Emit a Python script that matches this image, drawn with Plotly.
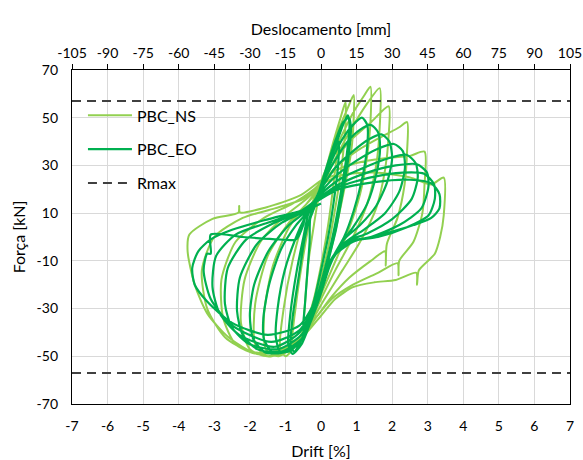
import plotly.graph_objects as go

# ---------------- data (drift [%], force [kN]) ----------------
RMAX = 57
MM_PER_DRIFT = 15  # 1 % drift = 15 mm displacement (top axis)

# PBC_NS cycles (light green)
NS_C1 = [(-0.2,12),(0.0,20),(0.2,30),(0.4,38),(0.45,42),(0.45,36),(0.35,22),(0.2,5),(0.0,-12),(-0.2,-26),(-0.4,-36),(-0.5,-40),(-0.45,-28),(-0.35,-10),(-0.2,5),(-0.1,14)]
NS_C2 = [(0.1,26),(0.35,40),(0.55,50),(0.69,56.6),(0.69,48),(0.6,32),(0.4,12),(0.15,-8),(-0.15,-25),(-0.45,-38),(-0.7,-46),(-0.8,-44),(-0.7,-28),(-0.5,-8),(-0.3,8),(-0.1,16)]
NS_C3 = [(0.15,28),(0.45,43),(0.75,54),(0.92,59.5),(0.92,50),(0.85,36),(0.6,16),(0.3,-4),(0.0,-20),(-0.35,-34),(-0.7,-45),(-1.0,-50),(-1.15,-46),(-1.05,-30),(-0.8,-10),(-0.5,6),(-0.2,16)]
NS_C4 = [(0.1,27),(0.5,40),(0.9,52),(1.2,59),(1.39,63),(1.39,48),(1.3,34),(1.1,18),(0.75,2),(0.35,-12),(0.0,-24),(-0.4,-37),(-0.8,-46),(-1.2,-50),(-1.55,-47),(-1.6,-32),(-1.35,-12),(-0.9,4),(-0.4,14),(-0.1,19)]
NS_C5 = [(0.3,30),(0.8,44),(1.3,56),(1.65,62.4),(1.65,46),(1.55,30),(1.3,14),(0.9,0),(0.4,-14),(0.0,-26),(-0.4,-38),(-0.9,-47),(-1.5,-50),(-1.85,-45),(-1.85,-28),(-1.5,-8),(-0.9,6),(-0.4,14),(-0.1,20)]
NS_C6 = [(0.3,30),(0.8,40),(1.4,48),(1.9,54.8),(1.9,42),(1.8,28),(1.55,12),(1.1,-2),(0.6,-14),(0.1,-26),(-0.3,-36),(-0.8,-45),(-1.5,-50),(-2.0,-47),(-2.25,-36),(-2.15,-18),(-1.7,-2),(-1.0,9),(-0.4,16),(-0.05,21)]
NS_C7 = [(0.4,29),(1.0,36),(1.7,42),(2.2,46),(2.42,48.2),(2.42,36),(2.35,22),(2.15,8),(1.85,-3),(1.82,-12),(1.8,-6),(1.4,-10),(0.8,-17),(0.3,-25),(-0.1,-33),(-0.5,-41),(-1.1,-47),(-1.8,-49),(-2.4,-45),(-2.75,-34),(-2.8,-18),(-2.4,-2),(-1.6,8),(-0.8,14),(-0.2,20)]
NS_C8 = [(0.3,27),(1.0,31),(1.8,33),(2.5,34),(2.91,35.8),(2.91,22),(2.85,10),(2.6,-2),(2.2,-10),(2.18,-16),(2.15,-11),(1.6,-15),(0.9,-20),(0.3,-26),(-0.1,-33),(-0.5,-41),(-1.2,-48),(-2.0,-48),(-2.7,-42),(-3.2,-30),(-3.35,-14),(-3.0,0),(-2.2,8),(-1.3,12),(-0.5,16),(0.0,22)]
NS_C9 = [(0.6,26),(1.5,27),(2.5,25),(3.1,22),(3.45,24.9),(3.45,9),(3.35,0),(3.2,-7),(2.75,-14),(2.7,-20),(2.68,-15),(2.1,-18),(1.5,-19),(0.9,-21),(0.4,-26),(0.0,-33),(-0.4,-40),(-1.0,-47),(-1.8,-49),(-2.6,-42),(-3.2,-32),(-3.55,-20),(-3.75,-6),(-3.7,1),(-3.05,7.6),(-2.32,10.2),(-2.3,13),(-2.28,10.3),(-1.55,12.4),(-0.6,17.3),(0.0,23.6),(0.4,26)]

# PBC_EO cycles (dark green)
EO_C1 = [(-0.3,8),(-0.1,16),(0.15,28),(0.35,36),(0.5,40),(0.48,30),(0.35,14),(0.2,0),(0.0,-14),(-0.2,-27),(-0.4,-36),(-0.5,-39),(-0.45,-28),(-0.38,-14),(-0.32,-2),(-0.3,8)]
EO_C2 = [(-0.05,18),(0.2,30),(0.45,40),(0.62,47),(0.75,51),(0.8,48),(0.72,34),(0.55,18),(0.38,4),(0.2,-8),(-0.05,-22),(-0.3,-34),(-0.55,-43),(-0.75,-48),(-0.85,-46),(-0.8,-34),(-0.62,-16),(-0.45,0),(-0.3,9)]
EO_C2B = [(-0.1,17),(0.15,29),(0.42,41),(0.62,48),(0.78,50),(0.84,46),(0.76,32),(0.58,16),(0.42,3),(0.22,-9),(-0.02,-23),(-0.28,-35),(-0.55,-45),(-0.8,-49),(-0.92,-45),(-0.86,-32),(-0.68,-14),(-0.48,1),(-0.35,10)]
EO_C3 = [(0.0,20),(0.3,32),(0.6,41),(0.9,47),(1.15,50),(1.3,47),(1.3,38),(1.15,24),(0.92,11),(0.65,0),(0.35,-8),(0.1,-18),(-0.2,-32),(-0.55,-43),(-0.9,-48),(-1.15,-48),(-1.27,-42),(-1.22,-30),(-1.02,-14),(-0.75,-2),(-0.45,8),(-0.3,11)]
EO_C4 = [(0.0,21),(0.35,31),(0.75,40),(1.1,45),(1.4,47),(1.6,44),(1.66,37),(1.55,26),(1.3,14),(0.9,4),(0.55,-3),(0.25,-12),(-0.1,-28),(-0.5,-42),(-0.95,-48),(-1.35,-48.5),(-1.6,-43),(-1.62,-34),(-1.46,-20),(-1.12,-5),(-0.7,5),(-0.35,11)]
EO_C5 = [(0.0,20),(0.4,29),(0.9,36),(1.35,41),(1.7,43),(1.92,40),(2.0,33),(1.86,23),(1.55,13),(1.1,5),(0.65,-1),(0.3,-10),(-0.1,-28),(-0.5,-42),(-1.0,-48),(-1.55,-48.5),(-1.9,-43),(-2.0,-33),(-1.88,-20),(-1.48,-6),(-0.9,5),(-0.4,11)]
EO_C6 = [(0.0,19),(0.45,26),(1.0,32),(1.6,37),(2.05,39),(2.3,36),(2.36,29),(2.2,19),(1.8,10),(1.2,3),(0.7,-2),(0.3,-10),(-0.1,-28),(-0.5,-42),(-1.1,-48),(-1.8,-47),(-2.2,-41),(-2.36,-31),(-2.28,-17),(-1.8,-3),(-1.1,6),(-0.45,11)]
EO_C7 = [(0.0,18),(0.5,24),(1.2,29),(1.9,33),(2.4,34.5),(2.66,31),(2.72,25),(2.55,16),(2.0,7.5),(1.3,1.5),(0.7,-2),(0.3,-9),(-0.1,-27),(-0.55,-41),(-1.2,-47),(-2.0,-45),(-2.5,-38),(-2.7,-28),(-2.62,-13),(-2.1,-1),(-1.3,6),(-0.5,11)]
EO_C8 = [(0.0,17),(0.5,22),(1.3,27),(2.1,30),(2.7,30.5),(2.98,27),(3.02,21),(2.82,12),(2.2,5),(1.4,0),(0.75,-2),(0.3,-9),(-0.1,-26),(-0.6,-40),(-1.3,-46),(-2.3,-41),(-2.85,-32),(-3.05,-21),(-2.95,-8),(-2.4,1),(-1.5,6),(-0.55,11)]
EO_C9 = [(0.0,17),(0.5,21),(1.4,25),(2.3,27),(2.9,26.5),(3.18,22),(3.2,16),(3.02,9),(2.4,4),(1.6,0),(0.8,-2),(0.3,-9),(-0.1,-26),(-0.6,-39),(-1.4,-44),(-2.5,-37),(-3.1,-26),(-3.3,-14),(-3.2,-7),(-3.1,-7),(-3.1,1),(-2.2,0),(-1.2,-1),(-0.7,-1),(-0.5,5),(-0.4,12)]
EO_C10 = [(0.0,16),(0.5,20),(1.5,23),(2.5,24),(3.1,22.5),(3.33,18),(3.33,12),(3.1,8),(2.6,5),(1.7,1),(0.9,-2),(0.3,-9),(-0.1,-25),(-0.6,-37),(-1.5,-41),(-2.5,-36),(-3.2,-27),(-3.55,-20),(-3.62,-13),(-3.45,-6),(-3.1,-1),(-2.5,3),(-1.6,7),(-0.8,10),(-0.3,12),(0.0,14)]

NS_CYCLES = [NS_C1, NS_C2, NS_C3, NS_C4, NS_C5, NS_C6, NS_C7, NS_C8, NS_C9]
EO_CYCLES = [EO_C1, EO_C2, EO_C2B, EO_C3, EO_C4, EO_C5, EO_C6, EO_C7, EO_C8, EO_C9, EO_C10]

X_TICKS = list(range(-7, 8))
Y_TICKS = list(range(-70, 71, 20))
TOP_TICKS = [t * MM_PER_DRIFT for t in X_TICKS]


def flatten(cycles):
    xs, ys = [], []
    for c in cycles:
        for d, f in c:
            xs.append(d)
            ys.append(f)
    return xs, ys


def labels(vals):
    return [str(v) for v in vals]  # plain hyphen-minus, as in the reference


ns_x, ns_y = flatten(NS_CYCLES)
eo_x, eo_y = flatten(EO_CYCLES)

FONT = "Lato"
fig = go.Figure()
fig.add_trace(go.Scatter(x=ns_x, y=ns_y, mode="lines", name="PBC_NS",
                         line=dict(color="#92D050", width=2, shape="spline", smoothing=0.7),
                         legendgroup="a"))
fig.add_trace(go.Scatter(x=eo_x, y=eo_y, mode="lines", name="PBC_EO",
                         line=dict(color="#00B050", width=2.2, shape="spline", smoothing=0.7),
                         legendgroup="b"))
fig.add_trace(go.Scatter(x=[X_TICKS[0], X_TICKS[-1], None, X_TICKS[0], X_TICKS[-1]],
                         y=[RMAX, RMAX, None, -RMAX, -RMAX], mode="lines", name="Rmax",
                         line=dict(color="#404040", width=2, dash="9px,6px"),
                         legendgroup="c"))
# helper trace for the top (mm) axis
fig.add_trace(go.Scatter(x=[TOP_TICKS[0], TOP_TICKS[-1]], y=[0, 0], xaxis="x2", mode="lines",
                         line=dict(width=0), showlegend=False, hoverinfo="skip", opacity=0))

tick_font = dict(family=FONT, size=14, color="#000000")
title_font = dict(family=FONT, size=16, color="#000000")
fig.update_layout(
    width=583, height=460,
    margin=dict(l=72, r=13, t=70, b=56),
    paper_bgcolor="white", plot_bgcolor="white",
    font=dict(family=FONT, size=15, color="#000000"),
    showlegend=True,
    legend=dict(x=0.022, y=0.915, xanchor="left", yanchor="top",
                bgcolor="rgba(0,0,0,0)", font=dict(family=FONT, size=16),
                traceorder="grouped", tracegroupgap=10, itemwidth=44),
    xaxis=dict(range=[X_TICKS[0], X_TICKS[-1]], tickvals=X_TICKS, ticktext=labels(X_TICKS),
               showgrid=True, gridcolor="#D9D9D9", gridwidth=1, zeroline=False,
               showline=True, linecolor="black", linewidth=1.3, mirror=False,
               ticks="", tickfont=tick_font, ticklabelstandoff=9, automargin=False,
               title=dict(text="Drift [%]", font=title_font, standoff=14)),
    xaxis2=dict(range=[TOP_TICKS[0], TOP_TICKS[-1]], tickvals=TOP_TICKS, ticktext=labels(TOP_TICKS),
                overlaying="x", side="top", anchor="y", showgrid=False, zeroline=False,
                showline=True, linecolor="black", linewidth=1.3,
                ticks="outside", ticklen=5, tickcolor="black", tickwidth=1,
                tickfont=tick_font, automargin=False, ticklabeloverflow="allow",
                title=dict(text="Deslocamento [mm]", font=title_font, standoff=4)),
    yaxis=dict(range=[Y_TICKS[0], Y_TICKS[-1]], tickvals=Y_TICKS, ticktext=labels(Y_TICKS),
               showgrid=True, gridcolor="#D9D9D9", gridwidth=1, zeroline=False,
               showline=True, linecolor="black", linewidth=1.3, mirror=True,
               ticks="", tickfont=tick_font, ticklabelstandoff=10, automargin=False,
               title=dict(text="Força [kN]", font=title_font, standoff=6)),
)

fig.write_html("out.html")
